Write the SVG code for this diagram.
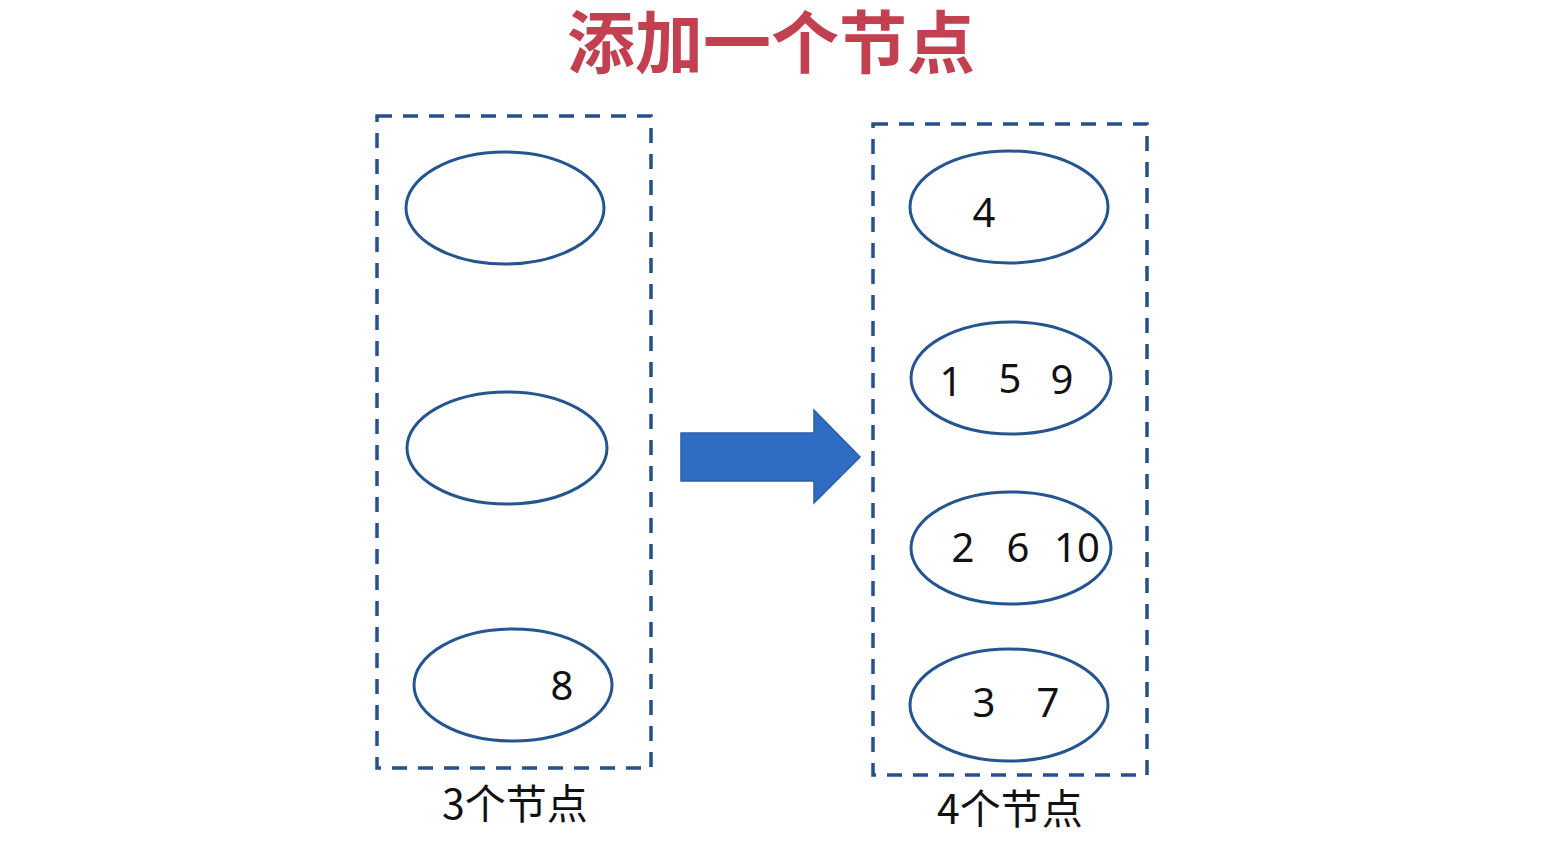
<svg xmlns="http://www.w3.org/2000/svg" width="1558" height="846" viewBox="0 0 1558 846">
<style>
.box{fill:none;stroke:#25508a;stroke-width:3.5;stroke-dasharray:15 11}
.node{fill:#fff;stroke:#24558f;stroke-width:3}
.num{font-family:"Noto Sans","Open Sans","Liberation Sans",sans-serif;font-size:40px;fill:#111;text-anchor:middle}
.lbl{font-family:"Noto Sans CJK SC","Noto Sans",sans-serif;font-size:41px;fill:#111;text-anchor:middle}
.title{font-family:"Noto Sans CJK SC",sans-serif;font-size:68px;font-weight:bold;fill:#c2404f;text-anchor:middle}
</style>
<rect width="1558" height="846" fill="#fff"/>
<text class="title" x="771" y="68">添加一个节点</text>
<g id="left-group">
<rect class="box" x="377" y="116" width="274" height="652"/>
<text class="lbl" x="515" y="819">3个节点</text>
</g>
<g id="L1"><ellipse class="node" cx="505" cy="208" rx="99" ry="56"/></g>
<g id="L2"><ellipse class="node" cx="507" cy="448" rx="100" ry="56"/></g>
<g id="L3"><ellipse class="node" cx="513" cy="685" rx="99" ry="56"/><text class="num" x="562" y="700">8</text></g>
<g id="right-group">
<rect class="box" x="873" y="124" width="274" height="651"/>
<text class="lbl" x="1010" y="824">4个节点</text>
</g>
<g id="R1"><ellipse class="node" cx="1009" cy="207" rx="99" ry="56"/><text class="num" x="984" y="227">4</text></g>
<g id="R2"><ellipse class="node" cx="1011" cy="378" rx="100" ry="56"/><text class="num" x="951" y="396">1</text><text class="num" x="1010" y="393">5</text><text class="num" x="1062" y="394">9</text></g>
<g id="R3"><ellipse class="node" cx="1011" cy="548" rx="100" ry="56"/><text class="num" x="963" y="562">2</text><text class="num" x="1018" y="562">6</text><text class="num" x="1077" y="562">10</text></g>
<g id="R4"><ellipse class="node" cx="1009" cy="705" rx="99" ry="56"/><text class="num" x="984" y="717">3</text><text class="num" x="1048" y="717">7</text></g>
<g id="connectors">
<path d="M681 433 H814 V410 L860 457 L814 503 V481 H681 Z" fill="#2f6cc4" stroke="#2b5ea6" stroke-width="1.5"/>
</g>
</svg>
